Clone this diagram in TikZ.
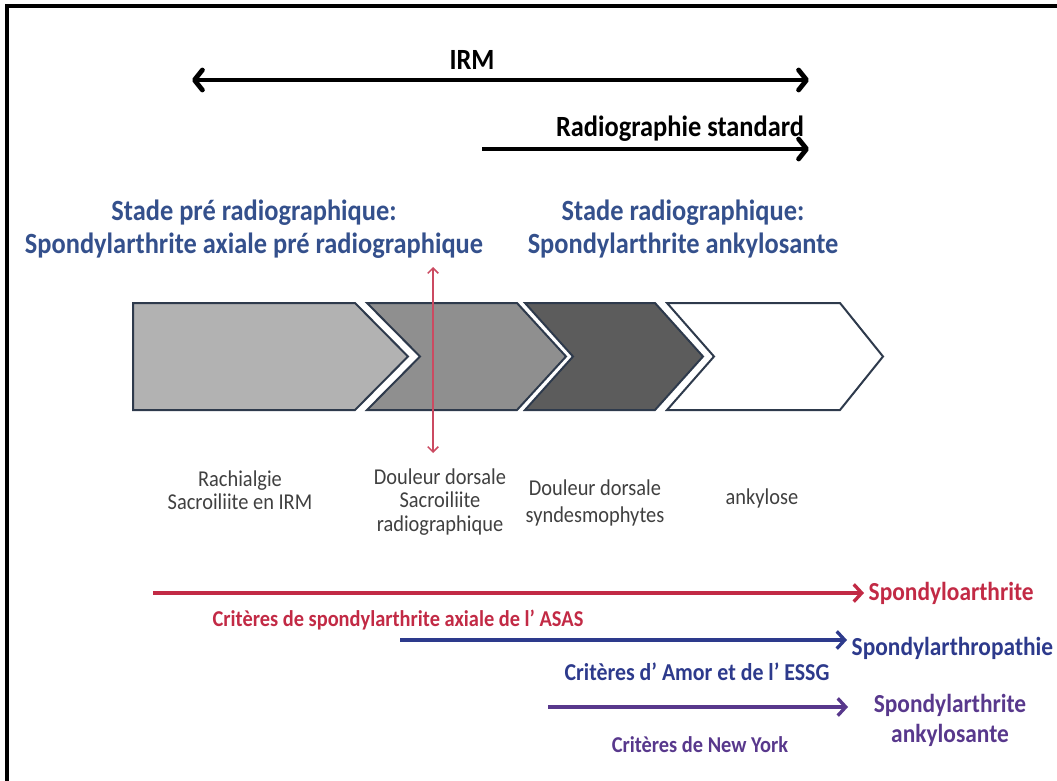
\documentclass[tikz,border=0pt]{standalone}
\usepackage{fontspec}
\setmainfont[FakeStretch=0.9]{Carlito}
\usetikzlibrary{arrows.meta}
\usetikzlibrary{positioning}
\definecolor{headblue}{HTML}{34508C}
\definecolor{slate}{HTML}{2E3A4C}
\definecolor{asasred}{HTML}{C22A45}
\definecolor{amorblue}{HTML}{2D3A8C}
\definecolor{nypurple}{HTML}{58388C}
\tikzset{stage/.style={draw=slate,line width=1.5pt,line join=miter}}
\tikzset{head/.style={text=headblue,font=\bfseries\fontsize{22}{25}\selectfont,align=center}}
\tikzset{sign/.style={text=black!75,font=\fontsize{17}{17.5}\selectfont,align=center}}
\tikzset{crit/.style={font=\bfseries\fontsize{17}{22}\selectfont,align=center}}
\tikzset{result/.style={font=\bfseries\fontsize{19.5}{22.5}\selectfont,align=center}}
\tikzset{big/.style={line width=3.6pt,{Straight Barb[length=6pt,width=15pt,round]}-{Straight Barb[length=6pt,width=15pt,round]}}}
\tikzset{critline/.style={line width=2.5pt,-{Straight Barb[length=6pt,width=13pt]}}}

\begin{document}
\begin{tikzpicture}[x=0.75pt,y=-0.75pt]
\useasboundingbox (0,0) rectangle (1057,781);
\draw[line width=2.4pt] (7,781) -- (7,6) -- (1057,6);

% imaging
\node[font=\bfseries\fontsize{22}{24}\selectfont] (irm) at (472,60) {IRM};
\coordinate (irmL) at (192,80);
\coordinate (irmR) at (809,80);
\draw[big] (irmL) -- (irmR);
\node[font=\bfseries\fontsize{22}{24}\selectfont] (radio) at (680,129) {Radiographie standard};
\coordinate (radL) at (482,149);
\coordinate (radR) at (809,149);
\draw[big,-{Straight Barb[length=6pt,width=15pt,round]}] (radL) -- (radR);

% stages
\node[head] (pre) at (254,229) {Stade pré radiographique:\\Spondylarthrite axiale pré radiographique};
\node[head] (post) at (683,229) {Stade radiographique:\\Spondylarthrite ankylosante};

\draw[stage,fill=black!30] (133,303) -- (355,303) -- (408,356.5) -- (355,410) -- (133,410) -- cycle;
\draw[stage,fill=black!44] (367,303) -- (517,303) -- (566,356.5) -- (517,410) -- (367,410) -- (420,356.5) -- cycle;
\draw[stage,fill=black!64] (525,303) -- (655,303) -- (703,356.5) -- (655,410) -- (525,410) -- (573,356.5) -- cycle;
\draw[stage,fill=white] (667,303) -- (840,303) -- (883,356.5) -- (840,410) -- (667,410) -- (714,356.5) -- cycle;

\coordinate (cutT) at (433,267);
\coordinate (cutB) at (433,453);
\draw[asasred!85,line width=1.1pt,{Straight Barb[length=4pt,width=8pt]}-{Straight Barb[length=4pt,width=8pt]}] (cutT) -- (cutB);

\node[sign] (l1) at (240,490) {Rachialgie\\Sacroiliite en IRM};
\node[sign] (l2) at (440,502) {Douleur dorsale\\Sacroiliite\\radiographique};
\node[sign] (l3) at (595,503) {Douleur dorsale\\[3pt]syndesmophytes};
\node[sign] (l4) at (762,498) {ankylose};

% criteria
\coordinate (asasL) at (153,593);
\node[result,text=asasred,anchor=west] (asas) at (864,593) {Spondyloarthrite};
\draw[critline,asasred] (asasL) -- (asas.west);
\node[crit,text=asasred] (asasT) at (398,620) {Critères de spondylarthrite axiale de l’ ASAS};

\coordinate (amorL) at (400,640);
\node[result,text=amorblue,anchor=west] (amor) at (847,648) {Spondylarthropathie};
\draw[critline,amorblue] (amorL) -- (amorL -| amor.west);
\node[crit,text=amorblue,font=\bfseries\fontsize{18.2}{22}\selectfont] (amorT) at (697,672) {Critères d’ Amor et de l’ ESSG};

\coordinate (nyL) at (548,707);
\coordinate (nyR) at (848,707);
\node[result,text=nypurple] (ny) at (950,720) {Spondylarthrite\\ankylosante};
\draw[critline,nypurple] (nyL) -- (nyR);
\node[crit,text=nypurple] (nyT) at (700,745) {Critères de New York};
\end{tikzpicture}
\end{document}
